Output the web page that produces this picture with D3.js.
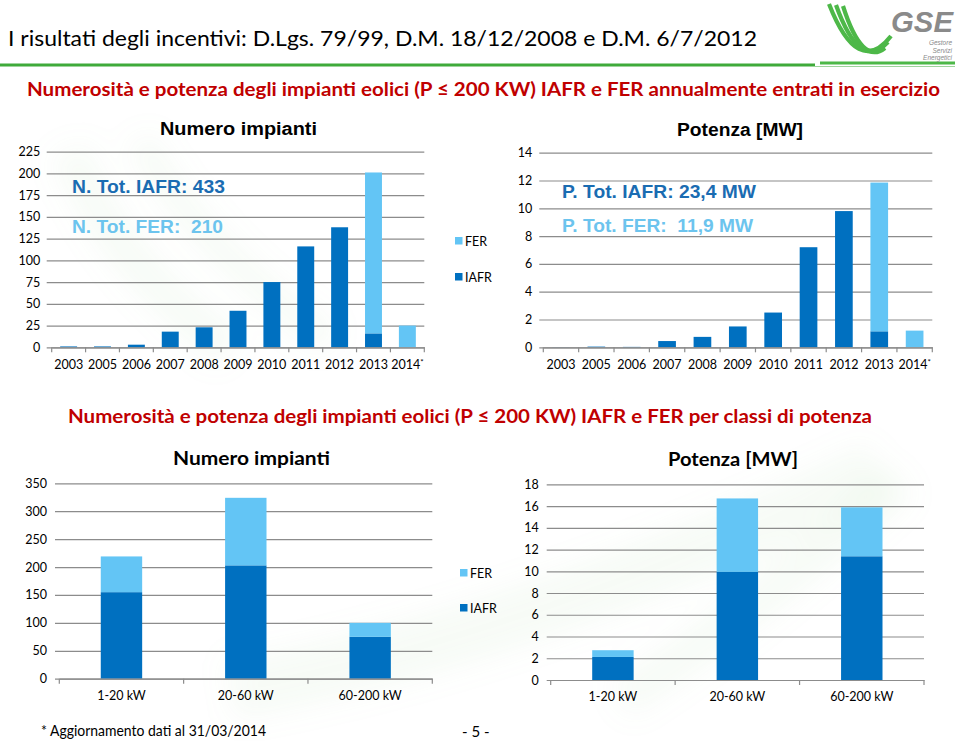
<!DOCTYPE html>
<html><head><meta charset="utf-8">
<script src="https://cdn.jsdelivr.net/npm/d3@7"></script>
<style>
html,body{margin:0;padding:0;background:#fff;}
svg{display:block;}
</style></head>
<body>
<svg id="c" width="960" height="741"></svg>
<script>
// ---- data ----
const years = ["2003","2005","2006","2007","2008","2009","2010","2011","2012","2013","2014"];
const numIAFR = [1,1,3,18,23,42,75,116,138,16,0];
const numFER  = [0,0,0,0,0,0,0,0,0,185,25];
const powIAFR = [0.01,0.05,0.03,0.45,0.75,1.5,2.5,7.2,9.8,1.15,0];
const powFER  = [0,0,0,0,0,0,0,0,0,10.7,1.2];
const classes = ["1-20 kW","20-60 kW","60-200 kW"];
const clsNumIAFR = [155,203,75];
const clsNumFER  = [64,121,25];
const clsPowIAFR = [2.12,9.94,11.38];
const clsPowFER  = [0.62,6.76,4.5];
const ticksNumYear = [0,25,50,75,100,125,150,175,200,225];
const ticksPowYear = [0,2,4,6,8,10,12,14];
const ticksNumCls = [0,50,100,150,200,250,300,350];
const ticksPowCls = [0,2,4,6,8,10,12,14,16,18];
const seriesNames = ["FER","IAFR"];

const C_IAFR = "#0070C0", C_FER = "#63C5F5", GRID = "#8c8c8c";
const CAL = "Lato, 'Open Sans', sans-serif";
const ARI = "'Liberation Sans', Arial, sans-serif";

const svg = d3.select("#c");

// faint watermark
const defs = svg.append("defs");
defs.append("filter").attr("id","blur").append("feGaussianBlur").attr("stdDeviation",14);
const wm = svg.append("g").attr("filter","url(#blur)").attr("fill","none").attr("stroke","#a9cf96").attr("stroke-opacity",0.09);
wm.append("path").attr("d","M70 150 Q110 260 230 350").attr("stroke-width",40);
wm.append("path").attr("d","M140 140 Q200 250 330 340").attr("stroke-width",30);
wm.append("path").attr("d","M230 690 Q520 640 880 470").attr("stroke-width",60);
wm.append("path").attr("d","M620 700 Q760 610 900 480").attr("stroke-width",40);

// header
svg.append("text").attr("x",8).attr("y",46).attr("font-family",CAL).attr("font-size",21)
  .attr("fill","#000").attr("textLength",749).attr("lengthAdjust","spacingAndGlyphs")
  .text("I risultati degli incentivi: D.Lgs. 79/99, D.M. 18/12/2008 e D.M. 6/7/2012");
svg.append("line").attr("x1",0).attr("x2",955).attr("y1",65).attr("y2",65).attr("stroke","#3FAA3A").attr("stroke-width",3);
svg.append("text").attr("x",27).attr("y",96).attr("font-family",CAL).attr("font-weight",700).attr("font-size",19)
  .attr("fill","#C00000").attr("textLength",913).attr("lengthAdjust","spacingAndGlyphs")
  .text("Numerosità e potenza degli impianti eolici (P ≤ 200 KW) IAFR e FER annualmente entrati in esercizio");
svg.append("text").attr("x",68).attr("y",423).attr("font-family",CAL).attr("font-weight",700).attr("font-size",19)
  .attr("fill","#C00000").attr("textLength",804).attr("lengthAdjust","spacingAndGlyphs")
  .text("Numerosità e potenza degli impianti eolici (P ≤ 200 KW) IAFR e FER per classi di potenza");

// logo
const logo = svg.append("g");
logo.append("rect").attr("x",815).attr("y",0).attr("width",145).attr("height",66).attr("fill","#fff");
[0,1,2].forEach(i=>{
  logo.append("path")
    .attr("d",`M${829+i*7} ${4+i*1} Q${858+i*2} ${78-i*6} ${891-i*3} ${36+i*6}`)
    .attr("fill","none").attr("stroke","#4DB848").attr("stroke-width",4.2);
});
logo.append("line").attr("x1",820).attr("x2",955).attr("y1",63).attr("y2",63).attr("stroke","#4DB848").attr("stroke-width",3);
logo.append("text").attr("x",891).attr("y",32).attr("font-family",ARI).attr("font-weight",700).attr("font-style","italic")
  .attr("font-size",30).attr("fill","#8a8a8a").attr("textLength",62).attr("lengthAdjust","spacingAndGlyphs").text("GSE");
[["Gestore",45],["Servizi",52.5],["Energetici",60]].forEach(([t,y])=>{
  logo.append("text").attr("x",952).attr("y",y).attr("text-anchor","end").attr("font-family",ARI).attr("font-style","italic")
    .attr("font-size",6.5).attr("fill","#8a8a8a").text(t);
});

function chart(o){
  const g = svg.append("g");
  const x = d3.scaleBand().domain(o.cats).range([o.x0,o.x1]).paddingInner(0).paddingOuter(0);
  const y = d3.scaleLinear().domain([0,o.max]).range([o.y0,o.y1]);
  // grid + y labels
  const ya = d3.axisLeft(y).tickValues(o.ticks).tickSize(-(o.x1-o.gx)).tickPadding(o.pad).tickFormat(d=>d);
  const yg = g.append("g").attr("transform",`translate(${o.gx},0)`).call(ya);
  yg.select(".domain").remove();
  yg.selectAll(".tick line").attr("stroke",GRID).attr("stroke-width",1.2);
  yg.selectAll("text").attr("font-family",CAL).attr("font-size",12.5).attr("fill","#000");
  // bars
  const bw = x.step()*o.bar;
  const stack = o.cats.map((c,i)=>({c, a:o.iafr[i], f:o.fer[i]}));
  g.selectAll(".bi").data(stack).enter().append("rect")
    .attr("x",d=>x(d.c)+(x.step()-bw)/2).attr("width",bw)
    .attr("y",d=>y(d.a)).attr("height",d=>o.y0-y(d.a)).attr("fill",C_IAFR);
  g.selectAll(".bf").data(stack).enter().append("rect")
    .attr("x",d=>x(d.c)+(x.step()-bw)/2).attr("width",bw)
    .attr("y",d=>y(d.a+d.f)).attr("height",d=>y(d.a)-y(d.a+d.f)).attr("fill",C_FER);
  // x axis
  const xa = d3.axisBottom(x).tickSize(0).tickPadding(o.xpad);
  const xg = g.append("g").attr("transform",`translate(0,${o.y0})`).call(xa);
  xg.select(".domain").attr("stroke",GRID).attr("stroke-width",1.2);
  xg.selectAll("text").attr("font-family",CAL).attr("font-size",12.5).attr("fill","#000");
  const bounds = o.cats.map(c=>x(c)).concat([o.x1]);
  g.selectAll(".xt").data(bounds).enter().append("line")
    .attr("x1",d=>d).attr("x2",d=>d).attr("y1",o.y0).attr("y2",o.y0+5).attr("stroke",GRID).attr("stroke-width",1.2);
  if(o.star){
    xg.selectAll("text").filter(d=>d===o.star).append("tspan").attr("dy","-0.5em").attr("font-size",8).text("*");
  }
  return {x,y,g};
}

chart({cats:years, iafr:numIAFR, fer:numFER, max:225, ticks:ticksNumYear,
  x0:51.7, x1:424.3, gx:46.7, y0:347.3, y1:151.6, pad:6.5, bar:0.5, xpad:13, star:"2014"});
chart({cats:years, iafr:powIAFR, fer:powFER, max:14, ticks:ticksPowYear,
  x0:543.3, x1:932.3, gx:539.3, y0:347.3, y1:152.7, pad:7, bar:0.5, xpad:13, star:"2014"});
chart({cats:classes, iafr:clsNumIAFR, fer:clsNumFER, max:350, ticks:ticksNumCls,
  x0:59.3, x1:432.3, gx:55, y0:678.7, y1:483.3, pad:8, bar:0.333, xpad:12});
chart({cats:classes, iafr:clsPowIAFR, fer:clsPowFER, max:18, ticks:ticksPowCls,
  x0:550.7, x1:924, gx:546.7, y0:680, y1:484.3, pad:8, bar:0.333, xpad:12});

// chart titles
function title(t,cx,y,fam,len){
  svg.append("text").attr("x",cx).attr("y",y).attr("text-anchor","middle").attr("font-family",fam)
    .attr("font-weight",700).attr("font-size",18).attr("fill","#000")
    .attr("textLength",len).attr("lengthAdjust","spacingAndGlyphs").text(t);
}
title("Numero impianti",238.5,135,ARI,157);
title("Potenza [MW]",740,136,ARI,126);
title("Numero impianti",251.5,465,CAL,157);
title("Potenza [MW]",733,466,CAL,130);

// annotations
function note(t,x,y,col,len){
  svg.append("text").attr("x",x).attr("y",y).attr("font-family",ARI).attr("font-weight",700).attr("font-size",18)
    .attr("fill",col).attr("textLength",len).attr("lengthAdjust","spacingAndGlyphs").attr("xml:space","preserve").text(t);
}
note("N. Tot. IAFR: 433",72,193,"#1A6CB2",153);
note("N. Tot. FER:  210",72,233,"#6CC4EE",151);
note("P. Tot. IAFR: 23,4 MW",562,197.5,"#1A6CB2",194);
note("P. Tot. FER:  11,9 MW",562,232,"#6CC4EE",191);

// legends
function legend(x,yF,yI){
  [[seriesNames[0],yF,C_FER],[seriesNames[1],yI,C_IAFR]].forEach(([t,yy,c])=>{
    svg.append("rect").attr("x",x).attr("y",yy-4).attr("width",7.5).attr("height",7.5).attr("fill",c);
    svg.append("text").attr("x",x+10).attr("y",yy+4.5).attr("font-family",CAL).attr("font-size",12.5).attr("fill","#000").text(t);
  });
}
legend(455,241,277);
legend(460,573,608);

// footer
svg.append("text").attr("x",41).attr("y",736).attr("font-family",CAL).attr("font-size",15).attr("fill","#000")
  .attr("textLength",225).attr("lengthAdjust","spacingAndGlyphs").text("* Aggiornamento dati al 31/03/2014");
svg.append("text").attr("x",462).attr("y",737).attr("font-family",CAL).attr("font-size",15).attr("fill","#000")
  .attr("xml:space","preserve").text("- 5 -");
</script>
</body></html>
